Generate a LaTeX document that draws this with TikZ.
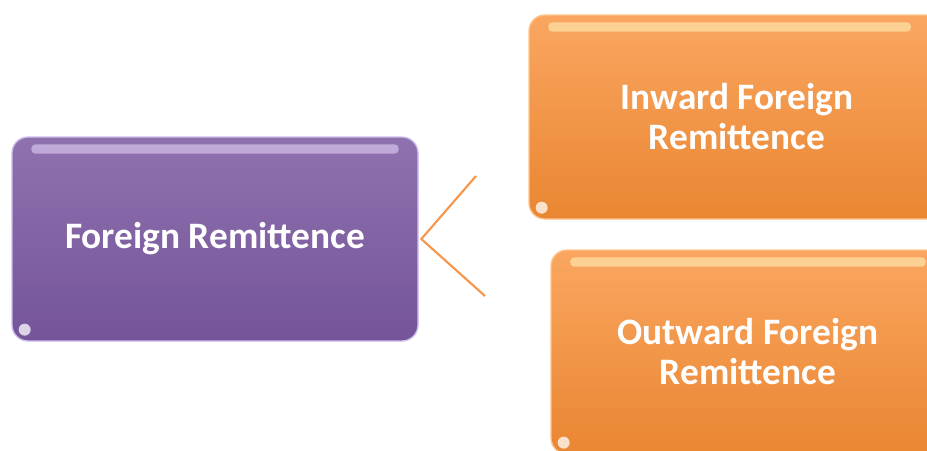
\documentclass[tikz,border=0pt]{standalone}
\usepackage{fontspec}
\setmainfont{Carlito}
\begin{document}
\definecolor{purpleTop}{RGB}{142,114,174}
\definecolor{purpleBot}{RGB}{117,84,154}
\definecolor{purpleEdge}{RGB}{205,190,235}
\definecolor{purpleGlow}{RGB}{225,208,245}
\definecolor{orangeTop}{RGB}{250,166,96}
\definecolor{orangeBot}{RGB}{233,134,50}
\definecolor{orangeEdge}{RGB}{252,196,140}
\definecolor{orangeGlow}{RGB}{255,240,185}
\definecolor{linkOrange}{RGB}{247,150,74}
\tikzset{
  box/.style={rounded corners=12pt, inner sep=0pt, text=white, align=center,
    font=\bfseries\fontsize{28pt}{30pt}\selectfont},
  purplebox/.style={box, top color=purpleTop, bottom color=purpleBot,
    draw=purpleEdge, line width=1pt},
  orangebox/.style={box, top color=orangeTop, bottom color=orangeBot,
    draw=orangeEdge, line width=1pt},
  link/.style={draw=linkOrange, line width=1.6pt},
  sheen/.style={rounded corners=3pt, fill opacity=0.6},
  spot/.style={fill=white, fill opacity=0.75}
}
\begin{tikzpicture}[x=0.75pt, y=-0.75pt]
  \useasboundingbox (0,0) rectangle (927,450);
  \clip (0,0) rectangle (927,450);

  % main box
  \node[purplebox, minimum width=304.5pt, minimum height=153pt] (fr) at (215,239)
    {Foreign Remittence};
  % branch boxes
  \node[orangebox, minimum width=312pt, minimum height=153pt] (in) at (737,117)
    {Inward Foreign\\Remittence};
  \node[orangebox, minimum width=295.5pt, minimum height=153pt] (out) at (748,352)
    {Outward Foreign\\Remittence};

  % glossy highlights along the top edges
  \fill[sheen, fill=purpleGlow] ([xshift=15,yshift=-6]fr.north west) rectangle ([xshift=-15,yshift=-13]fr.north east);
  \fill[sheen, fill=orangeGlow] ([xshift=15,yshift=-6]in.north west) rectangle ([xshift=-26,yshift=-13]in.north east);
  \fill[sheen, fill=orangeGlow] ([xshift=15,yshift=-6]out.north west) rectangle ([xshift=-15,yshift=-13]out.north east);
  % small bright spots in the lower left corners
  \fill[spot] ([xshift=10,yshift=9]fr.south west) circle[radius=6];
  \fill[spot] ([xshift=10,yshift=9]in.south west) circle[radius=6];
  \fill[spot] ([xshift=10,yshift=9]out.south west) circle[radius=6];

  % connector
  \coordinate (v) at ([xshift=2]fr.east);
  \coordinate (up) at (476,176);
  \coordinate (dn) at (485,296);
  \draw[link] (up) -- (v) -- (dn);
\end{tikzpicture}
\end{document}
